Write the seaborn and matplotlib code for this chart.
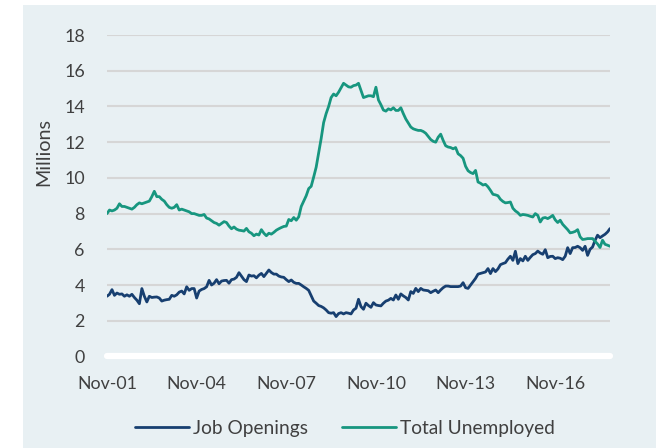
import numpy as np
import pandas as pd
import matplotlib
matplotlib.use("Agg")
import matplotlib.pyplot as plt
from matplotlib.patches import Rectangle
import seaborn as sns

# monthly values, Nov 2001 .. Sep 2018 (millions)
job_openings = [
    3.37, 3.48, 3.74, 3.42, 3.55, 3.48, 3.50, 3.37, 3.45, 3.37,
    3.48, 3.30, 3.15, 2.95, 3.80, 3.37, 3.05, 3.37, 3.30, 3.32,
    3.33, 3.27, 3.10, 3.15, 3.18, 3.20, 3.42, 3.37, 3.45, 3.60,
    3.66, 3.50, 3.90, 3.70, 3.80, 3.80, 3.27, 3.66, 3.75, 3.80,
    3.90, 4.26, 4.00, 4.10, 4.30, 4.07, 4.22, 4.25, 4.26, 4.10,
    4.30, 4.33, 4.43, 4.69, 4.50, 4.30, 4.19, 4.56, 4.50, 4.52,
    4.40, 4.55, 4.65, 4.47, 4.65, 4.84, 4.70, 4.61, 4.61, 4.50,
    4.45, 4.43, 4.30, 4.19, 4.28, 4.15, 4.09, 4.09, 4.00, 3.90,
    3.81, 3.70, 3.40, 3.10, 2.98, 2.85, 2.80, 2.72, 2.60, 2.45,
    2.42, 2.45, 2.23, 2.40, 2.45, 2.38, 2.45, 2.42, 2.38, 2.60,
    2.70, 3.20, 2.79, 2.64, 2.98, 2.85, 2.75, 3.01, 2.88, 2.85,
    2.83, 2.98, 3.10, 3.15, 3.25, 3.16, 3.44, 3.20, 3.50, 3.39,
    3.30, 3.16, 3.63, 3.53, 3.81, 3.63, 3.81, 3.72, 3.70, 3.68,
    3.57, 3.65, 3.72, 3.57, 3.72, 3.85, 3.94, 3.94, 3.91, 3.91,
    3.91, 3.91, 3.94, 4.13, 3.85, 3.81, 4.00, 4.19, 4.37, 4.61,
    4.65, 4.69, 4.73, 4.92, 4.64, 4.92, 4.75, 4.90, 5.14, 5.20,
    5.25, 5.45, 5.61, 5.38, 5.89, 5.20, 5.48, 5.35, 5.61, 5.38,
    5.55, 5.70, 5.76, 5.90, 5.79, 5.72, 5.98, 5.53, 5.60, 5.61,
    5.48, 5.53, 5.50, 5.42, 5.61, 6.09, 5.76, 6.09, 6.10, 6.17,
    6.09, 5.94, 6.17, 5.66, 6.00, 6.13, 6.50, 6.79, 6.65, 6.75,
    6.84, 6.97, 7.16,
]

total_unemployed = [
    8.00, 8.20, 8.15, 8.20, 8.30, 8.55, 8.40, 8.40, 8.35, 8.30,
    8.25, 8.35, 8.50, 8.60, 8.55, 8.60, 8.65, 8.70, 8.95, 9.25,
    8.95, 8.95, 8.80, 8.70, 8.50, 8.35, 8.30, 8.35, 8.50, 8.20,
    8.25, 8.20, 8.15, 8.10, 8.00, 8.00, 7.95, 7.90, 7.90, 7.95,
    7.75, 7.70, 7.60, 7.50, 7.45, 7.35, 7.45, 7.55, 7.50, 7.30,
    7.15, 7.25, 7.13, 7.07, 7.05, 7.02, 7.17, 6.98, 6.90, 6.76,
    6.85, 6.80, 7.10, 6.90, 6.76, 6.90, 6.85, 6.95, 7.07, 7.15,
    7.22, 7.28, 7.30, 7.67, 7.60, 7.78, 7.63, 7.82, 8.40, 8.70,
    9.00, 9.40, 9.53, 10.05, 10.60, 11.40, 12.20, 13.10, 13.60, 14.00,
    14.50, 14.70, 14.60, 14.80, 15.05, 15.30, 15.20, 15.10, 15.08, 15.17,
    15.20, 15.30, 14.90, 14.50, 14.55, 14.60, 14.60, 14.55, 15.08, 14.37,
    14.10, 13.80, 13.74, 13.87, 13.81, 13.93, 13.78, 13.78, 13.93, 13.60,
    13.30, 13.07, 12.85, 12.75, 12.70, 12.66, 12.66, 12.60, 12.50, 12.32,
    12.15, 12.05, 12.00, 12.28, 12.45, 12.10, 11.80, 11.73, 11.70, 11.63,
    11.70, 11.35, 11.25, 11.10, 10.65, 10.40, 10.30, 10.24, 10.42, 9.77,
    9.70, 9.60, 9.64, 9.50, 9.30, 9.08, 9.05, 9.00, 8.80, 8.68,
    8.60, 8.62, 8.65, 8.30, 8.15, 8.05, 7.90, 7.95, 7.93, 7.90,
    7.85, 7.81, 8.00, 7.90, 7.53, 7.75, 7.78, 7.72, 7.80, 7.90,
    7.65, 7.50, 7.63, 7.40, 7.25, 7.10, 6.92, 6.95, 7.00, 7.10,
    6.70, 6.55, 6.57, 6.60, 6.60, 6.60, 6.45, 6.30, 6.10, 6.51,
    6.28, 6.23, 6.17,
]

tick_pos = [0, 36, 72, 108, 144, 180]
tick_labels = ["Nov-01", "Nov-04", "Nov-07", "Nov-10", "Nov-13", "Nov-16"]
series_names = ["Job Openings", "Total Unemployed"]
colors = ["#173F70", "#17967F"]

bg = "#E8F0F3"
grid_col = "#D6D6D6"
text_col = "#404040"

months = np.arange(len(job_openings))
df = pd.DataFrame({
    "month": np.concatenate([months, months]),
    "value": job_openings + total_unemployed,
    "series": [series_names[0]] * len(months) + [series_names[1]] * len(months),
})

sns.set_style("white")
plt.rcParams["font.family"] = ["Lato", "DejaVu Sans"]

fig = plt.figure(figsize=(6.6, 4.48), dpi=100, facecolor="white")
fig.patches.append(Rectangle((23 / 660, 0), (656 - 23) / 660, (448 - 5) / 448,
                             transform=fig.transFigure, facecolor=bg,
                             edgecolor="none", zorder=-10))
ax = fig.add_axes([107 / 660, 1 - 356.4 / 448, 503 / 660, 321.3 / 448])
ax.set_facecolor(bg)

sns.lineplot(data=df, x="month", y="value", hue="series",
             palette=colors, hue_order=series_names, linewidth=2.0,
             ax=ax, legend=True, zorder=3)

ax.set_xlim(0, len(job_openings) - 1)
ax.set_ylim(0, 18)
ax.set_yticks(range(0, 19, 2))
for v in range(2, 19, 2):
    ax.axhline(v, color=grid_col, linewidth=1.5, zorder=1)
ax.axhline(0, color="white", linewidth=4.5, zorder=2, clip_on=False)

ax.set_xticks(tick_pos)
ax.set_xticklabels(tick_labels)
ax.tick_params(axis="both", length=0, labelsize=12.8, labelcolor=text_col)
ax.tick_params(axis="y", pad=16)
ax.tick_params(axis="x", pad=14)
for s in ax.spines.values():
    s.set_visible(False)
ax.set_xlabel("")
ax.set_ylabel("")
fig.text(44 / 660, 1 - 152 / 448, "Millions", rotation=90, ha="center",
         va="center", fontsize=14.2, color=text_col)

handles, labels = ax.get_legend_handles_labels()
ax.get_legend().remove()
fig.legend(handles, labels, loc="center", bbox_to_anchor=(345 / 660, 1 - 428 / 448),
           ncol=2, frameon=False, fontsize=13.8, handlelength=2.8,
           handletextpad=0.22, columnspacing=1.75, labelcolor=text_col)

fig.savefig("out.png", dpi=100, facecolor="white")
